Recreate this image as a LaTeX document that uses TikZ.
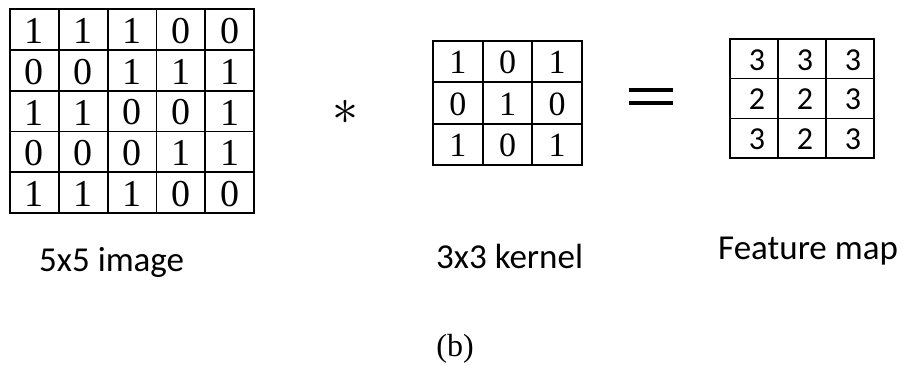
\documentclass[tikz,border=0pt]{standalone}
\usepackage{fontspec}
\setmainfont{Liberation Serif}
\newfontfamily\labelfont{Carlito}
\begin{document}
\begin{tikzpicture}[x=1pt,y=-1pt,
  gridline/.style={line width=1.8pt, black, line cap=rect},
  fmline/.style={line width=1.6pt, black, line cap=rect},
  imgdigit/.style={font=\fontsize{38}{38}\selectfont, inner sep=0pt},
  kerdigit/.style={font=\fontsize{34}{34}\selectfont, inner sep=0pt},
  fmdigit/.style={font=\labelfont\fontsize{32}{32}\selectfont, inner sep=0pt},
  caption/.style={font=\labelfont\fontsize{35}{35}\selectfont, inner sep=0pt, anchor=base west},
  opsign/.style={line width=4pt, black}]
\useasboundingbox (0,0) rectangle (911,365);
% 5x5 image grid
\foreach \i in {0,...,5} {
  \draw[gridline] (10+\i*48.8,9) -- (10+\i*48.8,213);
  \draw[gridline] (10,9+\i*40.8) -- (254,9+\i*40.8);
}
\foreach \r/\row in {1/{1,1,1,0,0},2/{0,0,1,1,1},3/{1,1,0,0,1},4/{0,0,0,1,1},5/{1,1,1,0,0}} {
  \foreach \v [count=\c] in \row {
    \node[imgdigit] (img-\r-\c) at (10+\c*48.8-24.4, 9+\r*40.8-20.4+1.5) {\v};
  }
}
% 3x3 kernel grid
\foreach \i in {0,...,3} {
  \draw[gridline] (433+\i*49.67,41) -- (433+\i*49.67,165);
  \draw[gridline] (433,41+\i*41.33) -- (582,41+\i*41.33);
}
\foreach \r/\row in {1/{1,0,1},2/{0,1,0},3/{1,0,1}} {
  \foreach \v [count=\c] in \row {
    \node[kerdigit] (ker-\r-\c) at (433+\c*49.67-24.83, 41+\r*41.33-20.67+1) {\v};
  }
}
% feature map grid
\foreach \i in {0,...,3} {
  \draw[fmline] (730+\i*48,39) -- (730+\i*48,158);
  \draw[fmline] (730,39+\i*39.67) -- (874,39+\i*39.67);
}
\foreach \r/\row in {1/{3,3,3},2/{2,2,3},3/{3,2,3}} {
  \foreach \v [count=\c] in \row {
    \node[fmdigit] (fm-\r-\c) at (730+\c*48-24+3, 39+\r*39.67-19.83+1) {\v};
  }
}
% operators
\node[inner sep=0pt] (star) at (345,112) {\scalebox{5.2}{$\ast$}};
\coordinate (eqa1) at (629,90);
\coordinate (eqb1) at (673,90);
\coordinate (eqa2) at (629,103);
\coordinate (eqb2) at (673,103);
\draw[opsign] (eqa1) -- (eqb1);
\draw[opsign] (eqa2) -- (eqb2);
% captions
\node[caption] (capimg) at (39,271) {5x5 image};
\node[caption] (capker) at (436,268) {3x3 kernel};
\node[caption] (capfm) at (718,259) {Feature map};
\node[inner sep=0pt, anchor=base, font=\fontsize{32}{32}\selectfont] (sub) at (455,356) {(b)};
\end{tikzpicture}
\end{document}
